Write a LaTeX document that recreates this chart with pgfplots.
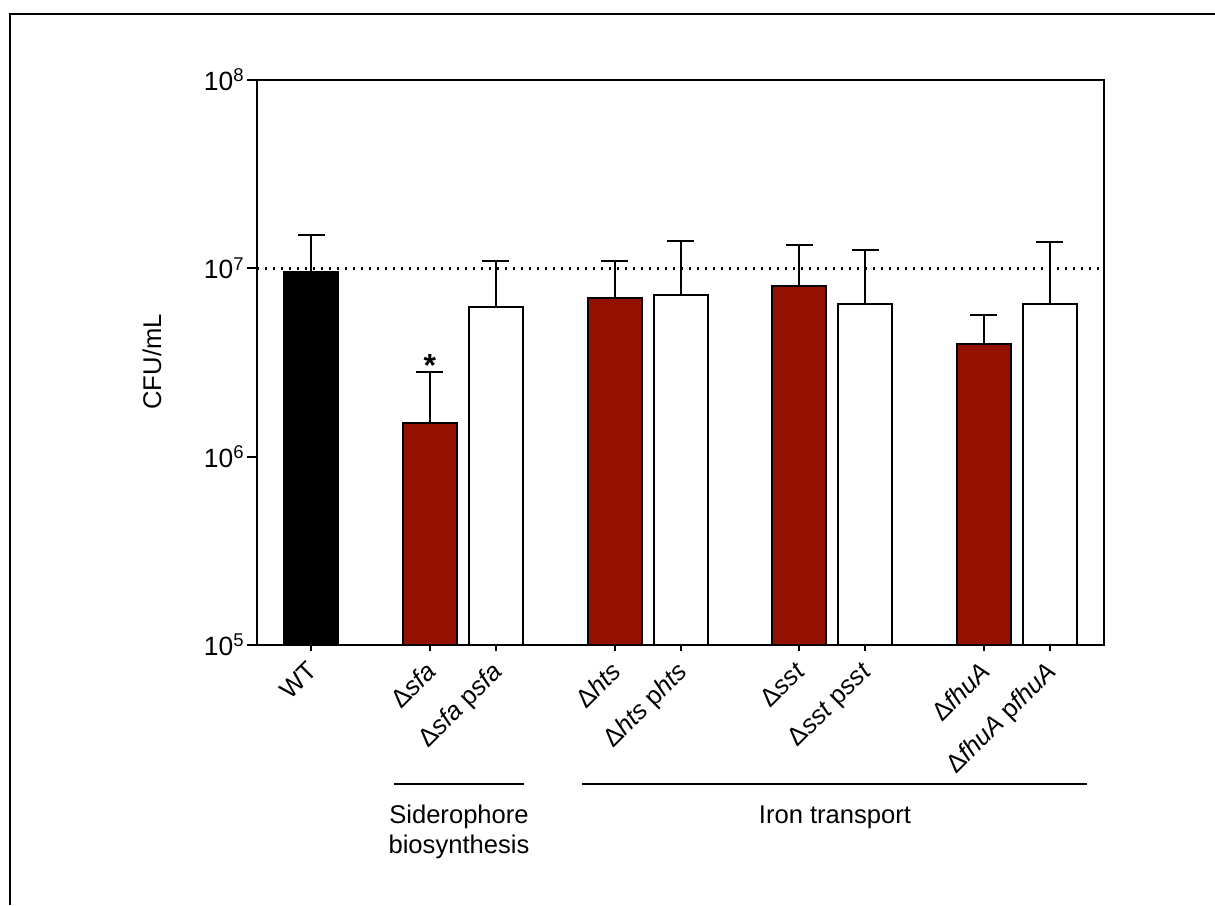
\documentclass[border=0pt]{standalone}
\usepackage{fontspec}
\setmainfont{Liberation Sans}
\usepackage{pgfplots}
\pgfplotsset{compat=1.18}
\definecolor{barred}{RGB}{148,17,0}
\begin{document}
\fontsize{12.8}{15}\selectfont
\begin{tikzpicture}
\path[use as bounding box] (0,0) rectangle (607.5pt,452.5pt);
\draw[line width=1.2pt] (5pt,0) -- (5pt,445.35pt) -- (607.5pt,445.35pt);
\begin{axis}[
  at={(128.5pt,130pt)}, anchor=south west,
  scale only axis, width=423.5pt, height=282.5pt,
  ymode=log, ymin=1e5, ymax=1e8, log origin=infty,
  xmin=-0.82, xmax=12.02,
  xtick={0,1.8,2.8,4.6,5.6,7.4,8.4,10.2,11.2},
  xticklabels={WT, Δ\textit{sfa}, Δ\textit{sfa} p\textit{sfa}, Δ\textit{hts}, Δ\textit{hts} p\textit{hts}, Δ\textit{sst}, Δ\textit{sst} p\textit{sst}, Δ\textit{fhuA}, Δ\textit{fhuA} p\textit{fhuA}},
  x tick label style={xshift=-2.5pt, yshift=0.5pt, rotate=45, anchor=north east, inner sep=2pt, font=\fontsize{12.8}{15}\selectfont},
  ytick={1e5,1e6,1e7,1e8},
  yticklabels={10\textsuperscript{5},10\textsuperscript{6},10\textsuperscript{7},10\textsuperscript{8}},
  y tick label style={font=\fontsize{13.2}{15}\selectfont, inner sep=1pt},
  yminorticks=false,
  axis line style={line width=1pt},
  every tick/.style={black, line width=1pt},
  tick align=outside, xtick pos=bottom, ytick pos=left,
  major tick length=5pt,
  xtick style={/pgfplots/major tick length=3pt},
  ylabel={CFU/mL},
  ylabel style={at={(axis description cs:-0.124,0.501)}, anchor=center, font=\fontsize{12.8}{15}\selectfont},
  error bars/error bar style={line width=1pt, black},
  error bars/error mark options={rotate=90, line width=1pt, mark size=6.75pt, black},
]
\addplot[line width=1.2pt, dash pattern=on 1.1pt off 2.9pt, black] coordinates {(-0.82,1e7) (12.02,1e7)};
\addplot[ybar, bar width=27pt, bar shift=0pt, fill=black, draw=black, line width=1pt,
  error bars/.cd, y dir=plus, y explicit]
  coordinates {(0,9.56e6) +- (0,5.44e6)};
\addplot[ybar, bar width=27pt, bar shift=0pt, fill=barred, draw=black, line width=1pt,
  error bars/.cd, y dir=plus, y explicit]
  coordinates {(1.8,1.51e6) +- (0,1.31e6) (4.6,6.95e6) +- (0,3.95e6) (7.4,8.05e6) +- (0,5.25e6) (10.2,3.96e6) +- (0,1.69e6)};
\addplot[ybar, bar width=27pt, bar shift=0pt, fill=white, draw=black, line width=1pt,
  error bars/.cd, y dir=plus, y explicit]
  coordinates {(2.8,6.23e6) +- (0,4.71e6) (5.6,7.22e6) +- (0,6.78e6) (8.4,6.46e6) +- (0,6.04e6) (11.2,6.46e6) +- (0,7.34e6)};
\node[anchor=base, inner sep=0pt, font=\fontsize{16}{16}\selectfont\bfseries] at (axis cs:1.8,2.66e6) {*};
\end{axis}
\draw[line width=1pt] (197pt,60.5pt) -- (262pt,60.5pt);
\draw[line width=1pt] (291pt,60.5pt) -- (543.5pt,60.5pt);
\node[anchor=base] at (229.5pt,41pt) {Siderophore};
\node[anchor=base] at (229.5pt,26pt) {biosynthesis};
\node[anchor=base] at (417.5pt,41pt) {Iron transport};
\end{tikzpicture}
\end{document}
